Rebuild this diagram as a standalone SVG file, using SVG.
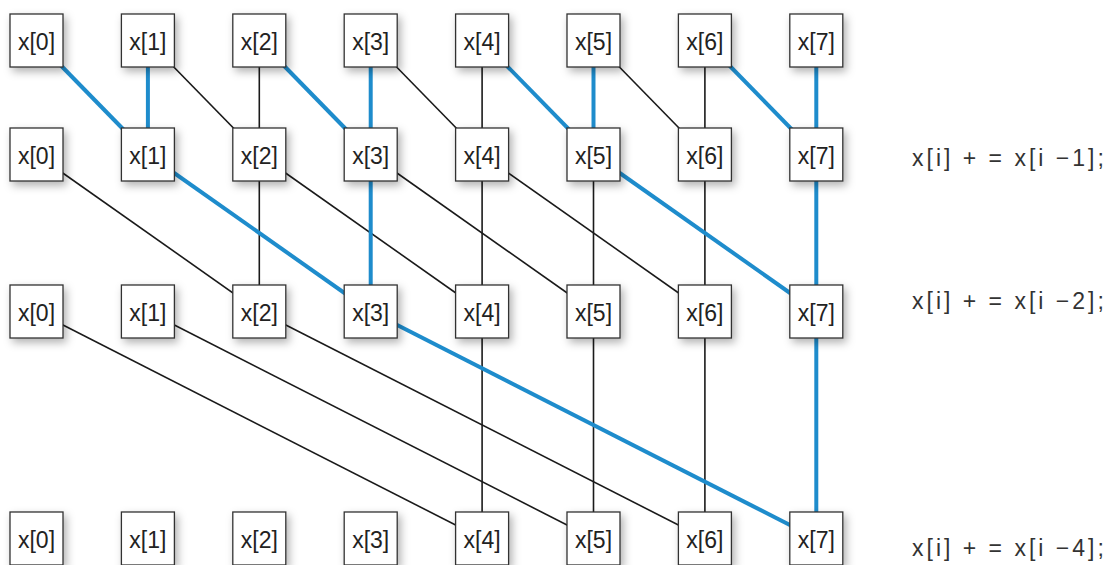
<svg xmlns="http://www.w3.org/2000/svg" width="1120" height="565" viewBox="0 0 1120 565">
<defs>
<filter id="sh" x="-30%" y="-30%" width="170%" height="170%">
<feDropShadow dx="3" dy="4" stdDeviation="4" flood-color="#000" flood-opacity="0.3"/>
</filter>
<style>
.box{fill:#fff;stroke:#333;stroke-width:1.3;filter:url(#sh)}
.lbl{font-family:"Liberation Sans",Arial,sans-serif;font-size:23px;fill:#222;text-anchor:middle}
.eq{font-family:"Liberation Sans",Arial,sans-serif;font-size:23px;fill:#333;letter-spacing:3px}
.k{stroke:#1a1a1a;stroke-width:1.6;fill:none}
.b{stroke:#1e8ccc;stroke-width:4;fill:none}
</style>
</defs>
<rect width="1120" height="565" fill="#fff"/>
<g id="connectors">
<line class="k" x1="147.9" y1="40.5" x2="259.3" y2="154.5"/>
<line class="k" x1="259.3" y1="40.5" x2="259.3" y2="154.5"/>
<line class="k" x1="370.7" y1="40.5" x2="482.1" y2="154.5"/>
<line class="k" x1="482.1" y1="40.5" x2="482.1" y2="154.5"/>
<line class="k" x1="593.5" y1="40.5" x2="704.9" y2="154.5"/>
<line class="k" x1="704.9" y1="40.5" x2="704.9" y2="154.5"/>
<line class="k" x1="36.5" y1="154.5" x2="259.3" y2="311.5"/>
<line class="k" x1="259.3" y1="154.5" x2="259.3" y2="311.5"/>
<line class="k" x1="259.3" y1="154.5" x2="482.1" y2="311.5"/>
<line class="k" x1="482.1" y1="154.5" x2="482.1" y2="311.5"/>
<line class="k" x1="370.7" y1="154.5" x2="593.5" y2="311.5"/>
<line class="k" x1="593.5" y1="154.5" x2="593.5" y2="311.5"/>
<line class="k" x1="482.1" y1="154.5" x2="704.9" y2="311.5"/>
<line class="k" x1="704.9" y1="154.5" x2="704.9" y2="311.5"/>
<line class="k" x1="36.5" y1="311.5" x2="482.1" y2="538.5"/>
<line class="k" x1="147.9" y1="311.5" x2="593.5" y2="538.5"/>
<line class="k" x1="259.3" y1="311.5" x2="704.9" y2="538.5"/>
<line class="k" x1="482.1" y1="311.5" x2="482.1" y2="538.5"/>
<line class="k" x1="593.5" y1="311.5" x2="593.5" y2="538.5"/>
<line class="k" x1="704.9" y1="311.5" x2="704.9" y2="538.5"/>
<line class="b" x1="36.5" y1="40.5" x2="147.9" y2="154.5"/>
<line class="b" x1="147.9" y1="40.5" x2="147.9" y2="154.5"/>
<line class="b" x1="259.3" y1="40.5" x2="370.7" y2="154.5"/>
<line class="b" x1="370.7" y1="40.5" x2="370.7" y2="154.5"/>
<line class="b" x1="482.1" y1="40.5" x2="593.5" y2="154.5"/>
<line class="b" x1="593.5" y1="40.5" x2="593.5" y2="154.5"/>
<line class="b" x1="704.9" y1="40.5" x2="816.3" y2="154.5"/>
<line class="b" x1="816.3" y1="40.5" x2="816.3" y2="154.5"/>
<line class="b" x1="147.9" y1="154.5" x2="370.7" y2="311.5"/>
<line class="b" x1="370.7" y1="154.5" x2="370.7" y2="311.5"/>
<line class="b" x1="593.5" y1="154.5" x2="816.3" y2="311.5"/>
<line class="b" x1="816.3" y1="154.5" x2="816.3" y2="311.5"/>
<line class="b" x1="370.7" y1="311.5" x2="816.3" y2="538.5"/>
<line class="b" x1="816.3" y1="311.5" x2="816.3" y2="538.5"/>
</g>
<g id="row1">
<g id="r1n0"><rect class="box" x="10" y="14" width="53" height="53"/><text class="lbl" x="36.5" y="49.5">x[0]</text></g>
<g id="r1n1"><rect class="box" x="121.4" y="14" width="53" height="53"/><text class="lbl" x="147.9" y="49.5">x[1]</text></g>
<g id="r1n2"><rect class="box" x="232.8" y="14" width="53" height="53"/><text class="lbl" x="259.3" y="49.5">x[2]</text></g>
<g id="r1n3"><rect class="box" x="344.2" y="14" width="53" height="53"/><text class="lbl" x="370.7" y="49.5">x[3]</text></g>
<g id="r1n4"><rect class="box" x="455.6" y="14" width="53" height="53"/><text class="lbl" x="482.1" y="49.5">x[4]</text></g>
<g id="r1n5"><rect class="box" x="567" y="14" width="53" height="53"/><text class="lbl" x="593.5" y="49.5">x[5]</text></g>
<g id="r1n6"><rect class="box" x="678.4" y="14" width="53" height="53"/><text class="lbl" x="704.9" y="49.5">x[6]</text></g>
<g id="r1n7"><rect class="box" x="789.8" y="14" width="53" height="53"/><text class="lbl" x="816.3" y="49.5">x[7]</text></g>
</g>
<g id="row2">
<g id="r2n0"><rect class="box" x="10" y="128" width="53" height="53"/><text class="lbl" x="36.5" y="163.5">x[0]</text></g>
<g id="r2n1"><rect class="box" x="121.4" y="128" width="53" height="53"/><text class="lbl" x="147.9" y="163.5">x[1]</text></g>
<g id="r2n2"><rect class="box" x="232.8" y="128" width="53" height="53"/><text class="lbl" x="259.3" y="163.5">x[2]</text></g>
<g id="r2n3"><rect class="box" x="344.2" y="128" width="53" height="53"/><text class="lbl" x="370.7" y="163.5">x[3]</text></g>
<g id="r2n4"><rect class="box" x="455.6" y="128" width="53" height="53"/><text class="lbl" x="482.1" y="163.5">x[4]</text></g>
<g id="r2n5"><rect class="box" x="567" y="128" width="53" height="53"/><text class="lbl" x="593.5" y="163.5">x[5]</text></g>
<g id="r2n6"><rect class="box" x="678.4" y="128" width="53" height="53"/><text class="lbl" x="704.9" y="163.5">x[6]</text></g>
<g id="r2n7"><rect class="box" x="789.8" y="128" width="53" height="53"/><text class="lbl" x="816.3" y="163.5">x[7]</text></g>
</g>
<g id="row3">
<g id="r3n0"><rect class="box" x="10" y="285" width="53" height="53"/><text class="lbl" x="36.5" y="320.5">x[0]</text></g>
<g id="r3n1"><rect class="box" x="121.4" y="285" width="53" height="53"/><text class="lbl" x="147.9" y="320.5">x[1]</text></g>
<g id="r3n2"><rect class="box" x="232.8" y="285" width="53" height="53"/><text class="lbl" x="259.3" y="320.5">x[2]</text></g>
<g id="r3n3"><rect class="box" x="344.2" y="285" width="53" height="53"/><text class="lbl" x="370.7" y="320.5">x[3]</text></g>
<g id="r3n4"><rect class="box" x="455.6" y="285" width="53" height="53"/><text class="lbl" x="482.1" y="320.5">x[4]</text></g>
<g id="r3n5"><rect class="box" x="567" y="285" width="53" height="53"/><text class="lbl" x="593.5" y="320.5">x[5]</text></g>
<g id="r3n6"><rect class="box" x="678.4" y="285" width="53" height="53"/><text class="lbl" x="704.9" y="320.5">x[6]</text></g>
<g id="r3n7"><rect class="box" x="789.8" y="285" width="53" height="53"/><text class="lbl" x="816.3" y="320.5">x[7]</text></g>
</g>
<g id="row4">
<g id="r4n0"><rect class="box" x="10" y="512" width="53" height="53"/><text class="lbl" x="36.5" y="547.5">x[0]</text></g>
<g id="r4n1"><rect class="box" x="121.4" y="512" width="53" height="53"/><text class="lbl" x="147.9" y="547.5">x[1]</text></g>
<g id="r4n2"><rect class="box" x="232.8" y="512" width="53" height="53"/><text class="lbl" x="259.3" y="547.5">x[2]</text></g>
<g id="r4n3"><rect class="box" x="344.2" y="512" width="53" height="53"/><text class="lbl" x="370.7" y="547.5">x[3]</text></g>
<g id="r4n4"><rect class="box" x="455.6" y="512" width="53" height="53"/><text class="lbl" x="482.1" y="547.5">x[4]</text></g>
<g id="r4n5"><rect class="box" x="567" y="512" width="53" height="53"/><text class="lbl" x="593.5" y="547.5">x[5]</text></g>
<g id="r4n6"><rect class="box" x="678.4" y="512" width="53" height="53"/><text class="lbl" x="704.9" y="547.5">x[6]</text></g>
<g id="r4n7"><rect class="box" x="789.8" y="512" width="53" height="53"/><text class="lbl" x="816.3" y="547.5">x[7]</text></g>
</g>
<g id="labels">
<text class="eq" x="912" y="166">x[i] + = x[i −1];</text>
<text class="eq" x="912" y="309">x[i] + = x[i −2];</text>
<text class="eq" x="912" y="556">x[i] + = x[i −4];</text>
</g>
</svg>
